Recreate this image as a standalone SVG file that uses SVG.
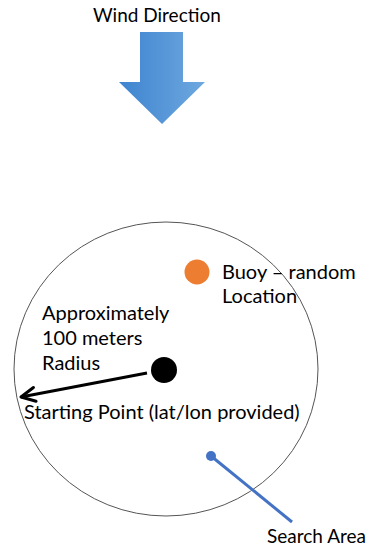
<svg xmlns="http://www.w3.org/2000/svg" width="369" height="548" viewBox="0 0 369 548">
<style>
text{font-family:Lato,"Open Sans","Liberation Sans",sans-serif;font-size:20px;fill:#000}
</style>
<defs>
<linearGradient id="g" x1="0" y1="0" x2="1" y2="0">
<stop offset="0" stop-color="#3e84d0"/>
<stop offset="1" stop-color="#6ea8df"/>
</linearGradient>
<marker id="ah" viewBox="0 0 18 18" refX="16" refY="9" markerWidth="18" markerHeight="18" markerUnits="userSpaceOnUse" orient="auto">
<path d="M2 2 L16 9 L2 16" fill="none" stroke="#000" stroke-width="3" stroke-linecap="round" stroke-linejoin="round"/>
</marker>
</defs>
<g id="wind">
<text x="93" y="22" style="font-size:19px">Wind Direction</text>
<polygon points="140,32 183,32 183,82 205,82 162,124 119,82 140,82" fill="url(#g)"/>
</g>
<g id="search-area-circle">
<ellipse cx="166" cy="369" rx="152" ry="147" fill="none" stroke="#555" stroke-width="1"/>
</g>
<g id="buoy">
<circle cx="197" cy="272" r="12.5" fill="#ed7d31"/>
<text x="222" y="279">Buoy – random</text>
<text x="222" y="303">Location</text>
</g>
<g id="radius-label">
<text x="42" y="320">Approximately</text>
<text x="42" y="345">100 meters</text>
<text x="42" y="370">Radius</text>
</g>
<g id="start">
<circle cx="164" cy="370" r="13" fill="#000"/>
<text x="24" y="419">Starting Point (lat/lon provided)</text>
</g>
<g id="search-label">
<circle cx="211" cy="456" r="5" fill="#4472c4"/>
<text x="267" y="543" style="font-size:19px">Search Area</text>
</g>
<g id="connectors">
<line x1="147" y1="373" x2="21" y2="397" stroke="#000" stroke-width="3" marker-end="url(#ah)"/>
<line x1="211" y1="456" x2="292" y2="522" stroke="#4472c4" stroke-width="3"/>
</g>
</svg>
